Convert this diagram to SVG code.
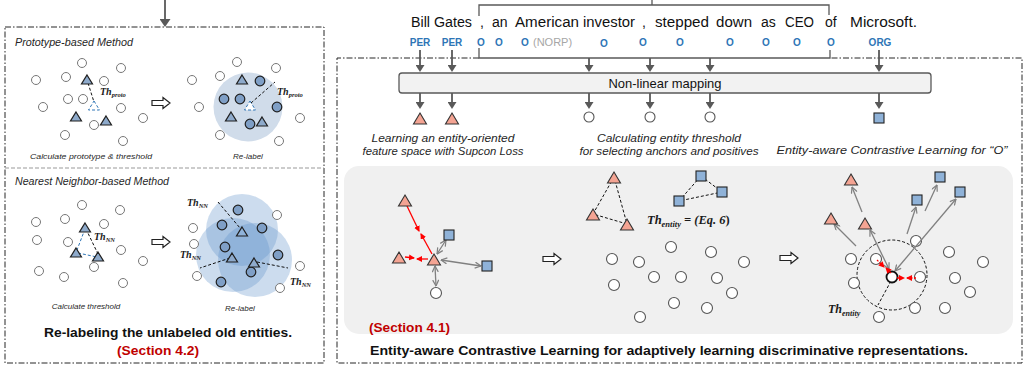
<svg xmlns="http://www.w3.org/2000/svg" width="1025" height="372" viewBox="0 0 1025 372">
<defs>
<style>
.sans{font-family:"Liberation Sans",Arial,sans-serif;fill:#111}
.cap{font-family:"Liberation Sans",Arial,sans-serif;font-style:italic;fill:#262626}
.th{font-family:"Liberation Serif","Times New Roman",serif;font-weight:bold;font-style:italic;fill:#1a1a1a}
.c{fill:#fff;stroke:#777;stroke-width:1}
.cb{fill:#7f9fc6;stroke:#1f1f1f;stroke-width:1.2}
.tb{fill:#8eaacb;stroke:#1f1f1f;stroke-width:1.2}
.ts{fill:#f4a493;stroke:#333;stroke-width:1.1}
.sq{fill:#8fb2d8;stroke:#222;stroke-width:1.1}
.cw{fill:#fff;stroke:#555;stroke-width:1.1}
.lbl{font-family:"Liberation Sans",Arial,sans-serif;font-weight:bold;font-size:10px;fill:#2e75b6;text-anchor:middle}
.dash{fill:none;stroke:#111;stroke-width:1;stroke-dasharray:3 2}
.bdash{fill:none;stroke:#2e75b6;stroke-width:1;stroke-dasharray:3 2}
.ga{fill:none;stroke:#808080;stroke-width:1.3;marker-end:url(#gh)}
.gd{fill:none;stroke:#808080;stroke-width:1.3;marker-end:url(#gh);marker-start:url(#gh)}
.ra{fill:none;stroke:#ff0000;stroke-width:1.3;marker-end:url(#rh)}
.rd{fill:none;stroke:#ff0000;stroke-width:1.3;stroke-dasharray:2 1.5;marker-end:url(#rh)}
.da{fill:none;stroke:#595959;stroke-width:1.8;marker-end:url(#dh)}
.br{fill:none;stroke:#595959;stroke-width:1.3}
.border{fill:none;stroke:#262626;stroke-width:1;stroke-dasharray:6 2 1.5 2}
.hol{fill:#fff;stroke:#222;stroke-width:1.2}
.nn{fill:#5b8fc7;fill-opacity:0.31}
</style>
<marker id="dh" markerUnits="userSpaceOnUse" viewBox="0 0 7 9" refX="1" refY="4.5" markerWidth="7" markerHeight="9" orient="auto">
<path d="M0,0 L7,4.5 L0,9 z" fill="#595959"/>
</marker>
<marker id="dh2" markerUnits="userSpaceOnUse" viewBox="0 0 8 11" refX="1" refY="5.5" markerWidth="8" markerHeight="11" orient="auto">
<path d="M0,0 L8,5.5 L0,11 z" fill="#595959"/>
</marker>
<marker id="gh" markerUnits="userSpaceOnUse" viewBox="0 0 7 7" refX="6.5" refY="3.5" markerWidth="7" markerHeight="7" orient="auto-start-reverse">
<path d="M0.5,0.5 L6.5,3.5 L0.5,6.5" fill="none" stroke="#808080" stroke-width="1.2"/>
</marker>
<marker id="rh" markerUnits="userSpaceOnUse" viewBox="0 0 6 6" refX="5" refY="3" markerWidth="6" markerHeight="6" orient="auto">
<path d="M0,0 L6,3 L0,6 z" fill="#ff0000"/>
</marker>
<path id="tri" d="M0,-5 L5.5,4 L-5.5,4 z"/>
<path id="tri2" d="M0,-6 L6.5,5 L-6.5,5 z"/>
<rect id="sq" x="-5" y="-5" width="10" height="10"/>
<path id="hollow" d="M-9,-2.5 H2 V-5.5 L9,0 L2,5.5 V2.5 H-9 Z"/>
</defs>

<rect width="1025" height="372" fill="#fff"/>

<!-- Left panel -->
<g id="left-panel">
<rect class="border" x="5" y="27" width="319" height="336"/>
<line x1="5" y1="168" x2="324" y2="168" stroke="#999" stroke-width="1" stroke-dasharray="4 2"/>
<line class="da" x1="165" y1="0" x2="165" y2="20" style="marker-end:url(#dh2)"/>
</g>

<g id="prototype-method">
<text class="cap" x="15" y="46" font-size="10.5" textLength="118" lengthAdjust="spacingAndGlyphs">Prototype-based Method</text>
<g id="proto-left">
<circle class="c" cx="82" cy="63" r="4.5"/><circle class="c" cx="121" cy="68" r="4.5"/>
<circle class="c" cx="36" cy="80" r="4.5"/><circle class="c" cx="66" cy="77" r="4.5"/>
<circle class="c" cx="104" cy="81" r="4.5"/><circle class="c" cx="68" cy="99" r="4.5"/>
<circle class="c" cx="83" cy="99" r="4.5"/><circle class="c" cx="43" cy="107" r="4.5"/>
<circle class="c" cx="121" cy="108" r="4.5"/><circle class="c" cx="94" cy="125" r="4.5"/>
<circle class="c" cx="143" cy="118" r="4.5"/><circle class="c" cx="65" cy="135" r="4.5"/>
<circle class="c" cx="123" cy="141" r="4.5"/>
<line class="dash" x1="88" y1="83" x2="94" y2="102"/>
<use href="#tri" class="tb" x="87" y="80"/>
<use href="#tri" class="tb" x="76" y="117"/>
<use href="#tri" class="tb" x="106" y="121"/>
<use href="#tri" class="bdash" x="94" y="106" style="fill:#fff"/>
<text class="th" x="100" y="95" font-size="10">Th<tspan font-size="6.5" dy="2">proto</tspan></text>
<text class="cap" x="91" y="159" font-size="8" text-anchor="middle" textLength="122" lengthAdjust="spacingAndGlyphs">Calculate prototype &amp; threshold</text>
</g>
<use href="#hollow" class="hol" x="161" y="103"/>
<g id="proto-right">
<circle cx="248" cy="107" r="34.5" fill="#d0dcea"/>
<circle class="c" cx="237" cy="62" r="4.5"/><circle class="c" cx="276" cy="68" r="4.5"/>
<circle class="c" cx="192" cy="80" r="4.5"/><circle class="c" cx="220" cy="76" r="4.5"/>
<circle class="c" cx="199" cy="107" r="4.5"/><circle class="c" cx="300" cy="118" r="4.5"/>
<circle class="c" cx="220" cy="135" r="4.5"/><circle class="c" cx="279" cy="141" r="4.5"/>
<circle class="cb" cx="260" cy="81" r="4.8"/><circle class="cb" cx="224" cy="99" r="4.8"/>
<circle class="cb" cx="240" cy="99" r="4.8"/><circle class="cb" cx="277" cy="107" r="4.8"/>
<circle class="cb" cx="250" cy="124" r="4.8"/>
<use href="#tri" class="tb" x="242" y="80"/>
<use href="#tri" class="tb" x="231" y="117"/>
<use href="#tri" class="tb" x="262" y="122"/>
<use href="#tri" class="bdash" x="250" y="106" style="fill:#fff"/>
<line class="dash" x1="251" y1="103" x2="275" y2="82"/>
<text class="th" x="277" y="95" font-size="10">Th<tspan font-size="6.5" dy="2">proto</tspan></text>
<text class="cap" x="248" y="159" font-size="8" text-anchor="middle">Re-label</text>
</g>
</g>

<g id="nn-method">
<text class="cap" x="15" y="185" font-size="10.5" textLength="154" lengthAdjust="spacingAndGlyphs">Nearest Neighbor-based Method</text>
<g id="nn-left">
<circle class="c" cx="82" cy="205" r="4.5"/><circle class="c" cx="120" cy="210" r="4.5"/>
<circle class="c" cx="36" cy="222" r="4.5"/><circle class="c" cx="65" cy="219" r="4.5"/>
<circle class="c" cx="104" cy="224" r="4.5"/><circle class="c" cx="37" cy="240" r="4.5"/>
<circle class="c" cx="68" cy="242" r="4.5"/><circle class="c" cx="121" cy="250" r="4.5"/>
<circle class="c" cx="143" cy="261" r="4.5"/><circle class="c" cx="94" cy="267" r="4.5"/>
<circle class="c" cx="39" cy="271" r="4.5"/><circle class="c" cx="64" cy="277" r="4.5"/>
<circle class="c" cx="123" cy="283" r="4.5"/>
<line class="bdash" x1="85" y1="229" x2="77" y2="250"/>
<line class="bdash" x1="78" y1="253" x2="97" y2="257"/>
<line class="dash" x1="86" y1="229" x2="98" y2="254"/>
<use href="#tri" class="tb" x="85" y="228"/>
<use href="#tri" class="tb" x="76" y="253"/>
<use href="#tri" class="tb" x="98" y="257"/>
<text class="th" x="94" y="240" font-size="10">Th<tspan font-size="6.5" dy="2">NN</tspan></text>
<text class="cap" x="86" y="309" font-size="8" text-anchor="middle">Calculate threshold</text>
</g>
<use href="#hollow" class="hol" x="161" y="242"/>
<g id="nn-right">
<circle class="nn" cx="242" cy="230" r="36"/>
<circle class="nn" cx="233" cy="255" r="37"/>
<circle class="nn" cx="255" cy="260" r="37"/>
<circle class="c" cx="277" cy="215" r="4.5"/><circle class="c" cx="193" cy="228" r="4.5"/>
<circle class="c" cx="194" cy="244" r="4.5"/><circle class="c" cx="197" cy="276" r="4.5"/>
<circle class="c" cx="300" cy="266" r="4.5"/><circle class="c" cx="280" cy="288" r="4.5"/>
<circle class="cb" cx="238" cy="210" r="4.8"/><circle class="cb" cx="222" cy="225" r="4.8"/>
<circle class="cb" cx="262" cy="228" r="4.8"/><circle class="cb" cx="225" cy="247" r="4.8"/>
<circle class="cb" cx="278" cy="255" r="4.8"/><circle class="cb" cx="251" cy="272" r="4.8"/>
<circle class="cb" cx="221" cy="282" r="4.8"/>
<line class="dash" x1="218" y1="202" x2="240" y2="228"/>
<line class="dash" x1="230" y1="258" x2="200" y2="268"/>
<line class="dash" x1="257" y1="262" x2="288" y2="268"/>
<use href="#tri" class="tb" x="242" y="232" style="fill:none"/>
<use href="#tri" class="tb" x="232" y="258"/>
<use href="#tri" class="tb" x="254" y="263"/>
<text class="th" x="187" y="206" font-size="10">Th<tspan font-size="6.5" dy="2">NN</tspan></text>
<text class="th" x="180" y="258" font-size="10">Th<tspan font-size="6.5" dy="2">NN</tspan></text>
<text class="th" x="290" y="285" font-size="10">Th<tspan font-size="6.5" dy="2">NN</tspan></text>
<text class="cap" x="240" y="311" font-size="8" text-anchor="middle">Re-label</text>
</g>
<text class="sans" x="168" y="337" font-size="13.5" font-weight="bold" text-anchor="middle" textLength="248" lengthAdjust="spacingAndGlyphs">Re-labeling the unlabeled old entities.</text>
<text x="158" y="355" font-family="Liberation Sans,Arial,sans-serif" font-size="13.5" font-weight="bold" fill="#c00000" text-anchor="middle" textLength="82" lengthAdjust="spacingAndGlyphs">(Section 4.2)</text>
</g>

<!-- Right panel -->
<g id="right-panel">
<path class="border" d="M479,58 H337 V363 H1022 V58 H830"/>
<rect x="344" y="166" width="669" height="168" rx="15" fill="#f0f0f0"/>
</g>

<g id="sentence">
<g class="sans" font-size="14">
<text x="411" y="27" textLength="61" lengthAdjust="spacingAndGlyphs">Bill Gates</text>
<text x="480" y="27">,</text>
<text x="492" y="27">an</text>
<text x="515" y="27" textLength="64" lengthAdjust="spacingAndGlyphs">American</text>
<text x="583" y="27" textLength="52" lengthAdjust="spacingAndGlyphs">investor</text>
<text x="642" y="27">,</text>
<text x="655" y="27" textLength="54" lengthAdjust="spacingAndGlyphs">stepped</text>
<text x="716" y="27" textLength="36" lengthAdjust="spacingAndGlyphs">down</text>
<text x="761" y="27">as</text>
<text x="785" y="27" textLength="29" lengthAdjust="spacingAndGlyphs">CEO</text>
<text x="825" y="27">of</text>
<text x="850" y="27" textLength="67" lengthAdjust="spacingAndGlyphs">Microsoft.</text>
</g>
<text class="lbl" x="420" y="46">PER</text>
<text class="lbl" x="452" y="46">PER</text>
<text class="lbl" x="481" y="46">O</text>
<text class="lbl" x="499" y="46">O</text>
<text class="lbl" x="525" y="46">O</text>
<text x="533" y="46" font-family="Liberation Sans,Arial,sans-serif" font-size="11" fill="#a6a6a6">(NORP)</text>
<text class="lbl" x="604" y="47">O</text>
<text class="lbl" x="643" y="46">O</text>
<text class="lbl" x="680" y="46">O</text>
<text class="lbl" x="730" y="46">O</text>
<text class="lbl" x="766" y="46">O</text>
<text class="lbl" x="797" y="46">O</text>
<text class="lbl" x="831" y="46">O</text>
<text class="lbl" x="880" y="46">ORG</text>
</g>

<g id="mapping">
<rect x="399" y="73" width="532" height="20" rx="3" fill="#f2f2f2" stroke="#595959" stroke-width="1.3"/>
<text class="sans" x="665" y="88" font-size="13" text-anchor="middle" textLength="113" lengthAdjust="spacingAndGlyphs">Non-linear mapping</text>
</g>

<g id="connectors">
<path class="br" d="M479,16 V5 H829 V15 M652,0 V5"/>
<path class="br" d="M479,48 V58 H830 V50"/>
<line class="da" x1="420" y1="50" x2="420" y2="66"/>
<line class="da" x1="452" y1="50" x2="452" y2="66"/>
<line class="da" x1="589" y1="58" x2="589" y2="66"/>
<line class="da" x1="650" y1="58" x2="650" y2="66"/>
<line class="da" x1="710" y1="58" x2="710" y2="66"/>
<line class="da" x1="879" y1="50" x2="879" y2="66"/>
<line class="da" x1="420" y1="93" x2="420" y2="103"/>
<line class="da" x1="452" y1="93" x2="452" y2="103"/>
<line class="da" x1="589" y1="93" x2="589" y2="103"/>
<line class="da" x1="650" y1="93" x2="650" y2="103"/>
<line class="da" x1="710" y1="93" x2="710" y2="103"/>
<line class="da" x1="879" y1="93" x2="879" y2="103"/>
</g>

<g id="outputs">
<use href="#tri2" class="ts" x="420" y="119"/>
<use href="#tri2" class="ts" x="452" y="119"/>
<circle class="cw" cx="589" cy="117" r="5"/>
<circle class="cw" cx="650" cy="117" r="5"/>
<circle class="cw" cx="710" cy="117" r="5"/>
<use href="#sq" class="sq" x="879" y="118"/>
<g class="cap" font-size="11.5" text-anchor="middle">
<text x="443" y="142" textLength="143" lengthAdjust="spacingAndGlyphs">Learning an entity-oriented</text>
<text x="443" y="155" textLength="161" lengthAdjust="spacingAndGlyphs">feature space with Supcon Loss</text>
<text x="669" y="142" textLength="144" lengthAdjust="spacingAndGlyphs">Calculating entity threshold</text>
<text x="669" y="155" textLength="179" lengthAdjust="spacingAndGlyphs">for selecting anchors and positives</text>
<text x="892" y="154" textLength="231" lengthAdjust="spacingAndGlyphs">Entity-aware Contrastive Learning for “O”</text>
</g>
</g>

<g id="supcon">
<line class="ra" x1="407" y1="206" x2="419" y2="231"/>
<line class="ra" x1="432" y1="254" x2="421" y2="234"/>
<line class="ra" x1="405" y1="257" x2="414" y2="258"/>
<line class="ra" x1="428" y1="259" x2="417" y2="259"/>
<line class="gd" x1="437" y1="254" x2="446" y2="240"/>
<line class="gd" x1="441" y1="260" x2="481" y2="266"/>
<line class="gd" x1="435" y1="266" x2="436" y2="286"/>
<use href="#tri2" class="ts" x="405" y="201"/>
<use href="#tri2" class="ts" x="399" y="258"/>
<use href="#tri2" class="ts" x="434" y="260"/>
<use href="#sq" class="sq" x="449" y="235"/>
<use href="#sq" class="sq" x="487" y="266"/>
<circle class="cw" cx="436" cy="293" r="5.5"/>
</g>
<use href="#hollow" class="hol" x="552" y="259"/>

<g id="threshold">
<path class="dash" d="M614,177 L593,214 L627,224 Z"/>
<path class="dash" d="M701,176 L722,192 L679,201 Z"/>
<use href="#tri2" class="ts" x="614" y="178"/>
<use href="#tri2" class="ts" x="593" y="215"/>
<use href="#tri2" class="ts" x="627" y="225"/>
<use href="#sq" class="sq" x="701" y="176"/>
<use href="#sq" class="sq" x="722" y="192"/>
<use href="#sq" class="sq" x="679" y="201"/>
<text class="th" x="647" y="224" font-size="12.5">Th<tspan font-size="8.5" dy="2.5">entity</tspan><tspan dy="-2.5"> = (</tspan><tspan>Eq. 6</tspan><tspan font-style="normal">)</tspan></text>
<circle class="cw" cx="671" cy="247" r="5.5"/><circle class="cw" cx="711" cy="252" r="5.5"/>
<circle class="cw" cx="612" cy="259" r="5.5"/><circle class="cw" cx="639" cy="262" r="5.5"/>
<circle class="cw" cx="744" cy="262" r="5.5"/><circle class="cw" cx="654" cy="277" r="5.5"/>
<circle class="cw" cx="681" cy="277" r="5.5"/><circle class="cw" cx="717" cy="278" r="5.5"/>
<circle class="cw" cx="614" cy="285" r="5.5"/><circle class="cw" cx="732" cy="293" r="5.5"/>
<circle class="cw" cx="674" cy="303" r="5.5"/><circle class="cw" cx="707" cy="308" r="5.5"/>
<circle class="cw" cx="640" cy="317" r="5.5"/>
</g>
<use href="#hollow" class="hol" x="789" y="258"/>

<g id="entity-aware-o">
<circle cx="892" cy="275" r="35" fill="none" stroke="#111" stroke-width="1" stroke-dasharray="3 2"/>
<line class="dash" x1="891" y1="281" x2="878" y2="305"/>
<circle class="cw" cx="916" cy="241" r="5.5"/><circle class="cw" cx="949" cy="252" r="5.5"/>
<circle class="cw" cx="851" cy="259" r="5.5"/><circle class="cw" cx="876" cy="259" r="5.5"/>
<circle class="cw" cx="983" cy="262" r="5.5"/><circle class="cw" cx="854" cy="283" r="5.5"/>
<circle class="cw" cx="920" cy="277" r="5.5"/><circle class="cw" cx="955" cy="278" r="5.5"/>
<circle class="cw" cx="970" cy="292" r="5.5"/><circle class="cw" cx="915" cy="308" r="5.5"/>
<circle class="cw" cx="945" cy="308" r="5.5"/><circle class="cw" cx="879" cy="317" r="5.5"/>
<circle cx="892" cy="277" r="5.5" fill="#fff" stroke="#111" stroke-width="1.8"/>
<line class="ga" x1="856" y1="246" x2="834" y2="224"/>
<line class="ga" x1="862" y1="212" x2="852" y2="187"/>
<line class="ga" x1="907" y1="234" x2="916" y2="207"/>
<line class="ga" x1="925" y1="211" x2="937" y2="185"/>
<line class="gd" x1="870" y1="230" x2="889" y2="269"/>
<line class="gd" x1="895" y1="271" x2="956" y2="199"/>
<line class="rd" x1="877" y1="260" x2="884" y2="267"/>
<line class="rd" x1="891" y1="273" x2="886" y2="268"/>
<line class="rd" x1="897" y1="278" x2="904" y2="278"/>
<line class="rd" x1="916" y1="278" x2="907" y2="278"/>
<use href="#tri2" class="ts" x="851" y="180"/>
<use href="#tri2" class="ts" x="831" y="219"/>
<use href="#tri2" class="ts" x="865" y="224"/>
<use href="#sq" class="sq" x="940" y="177"/>
<use href="#sq" class="sq" x="960" y="192"/>
<use href="#sq" class="sq" x="917" y="200"/>
<text class="th" x="828" y="313" font-size="12">Th<tspan font-size="8" dy="2.5">entity</tspan></text>
</g>

<text x="369" y="332" font-family="Liberation Sans,Arial,sans-serif" font-size="13.5" font-weight="bold" fill="#c00000" textLength="81" lengthAdjust="spacingAndGlyphs">(Section 4.1)</text>
<text class="sans" x="669" y="355" font-size="13.5" font-weight="bold" text-anchor="middle" textLength="598" lengthAdjust="spacingAndGlyphs">Entity-aware Contrastive Learning for adaptively learning discriminative representations.</text>
</svg>
